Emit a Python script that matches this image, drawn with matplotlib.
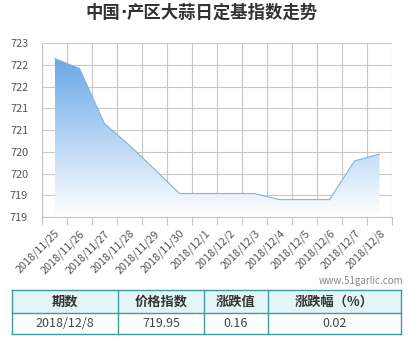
import math
import numpy as np
import matplotlib
matplotlib.use("Agg")
import matplotlib.pyplot as plt
from matplotlib.colors import LinearSegmentedColormap
from matplotlib.patches import Rectangle
from matplotlib.ticker import FixedLocator, FuncFormatter

plt.rcParams['font.family'] = ['Noto Sans CJK SC', 'DejaVu Sans']

# ---- data ----
dates = ["2018/11/25", "2018/11/26", "2018/11/27", "2018/11/28", "2018/11/29",
         "2018/11/30", "2018/12/1", "2018/12/2", "2018/12/3", "2018/12/4",
         "2018/12/5", "2018/12/6", "2018/12/7", "2018/12/8"]
index_values = [722.15, 721.92, 720.65, 720.15, 719.60, 719.04, 719.04,
                719.04, 719.04, 718.90, 718.90, 718.90, 719.79, 719.95]
y_ticks = [718.5, 719.0, 719.5, 720.0, 720.5, 721.0, 721.5, 722.0, 722.5]

title_parts = ["中国", "·", "产区大蒜日定基指数走势"]
table_headers = ["期数", "价格指数", "涨跌值", "涨跌幅（%）"]
table_row = ["2018/12/8", "719.95", "0.16", "0.02"]
watermark = "www.51garlic.com"

# ---- figure ----
W, H = 412, 337
fig = plt.figure(figsize=(W / 100, H / 100), dpi=100)
fig.patch.set_facecolor("white")

def fx(px):
    return px / W

def fy(py):
    return 1 - py / H

ax_l, ax_r, ax_t, ax_b = 42, 392, 43.3, 217
ax = fig.add_axes([fx(ax_l), fy(ax_b), fx(ax_r - ax_l), (ax_b - ax_t) / H])

x = np.arange(len(dates))
y = np.array(index_values)
ymin, ymax = y_ticks[0], y_ticks[-1]
ax.set_xlim(-0.5, len(dates) - 0.5)
ax.set_ylim(ymin, ymax)

# gradient area under the line
cmap = LinearSegmentedColormap.from_list("area", ["#ffffff", "#6aa8e8"])
grad = np.linspace(0, 1, 256).reshape(-1, 1)
img = ax.imshow(grad, cmap=cmap, aspect="auto", origin="lower",
                extent=[x[0], x[-1], ymin, y.max()], zorder=2)
poly = ax.fill_between(x, y, ymin, facecolor="none", edgecolor="none")
clip = poly.get_paths()[0]
img.set_clip_path(clip, transform=ax.transData)
ax.plot(x, y, color="#86b0da", lw=0.8, zorder=3)

# grid lines at the category boundaries
ax.xaxis.set_minor_locator(FixedLocator(np.arange(-0.5, len(dates), 1.0)))
ax.set_xticks(x)
ax.set_xticklabels(dates, rotation=45, ha="right", rotation_mode="anchor",
                   fontsize=7.8, color="#555555")
ax.tick_params(axis="x", which="major", length=0, pad=8)
ax.tick_params(axis="x", which="minor", length=6, color="#c4c4c4", width=0.8)
ax.grid(True, axis="x", which="minor", color="#c8c8c8", lw=0.8, zorder=1)

ax.set_yticks(y_ticks)
ax.yaxis.set_major_formatter(FuncFormatter(lambda v, p: str(int(math.floor(v + 0.5)))))
ax.tick_params(axis="y", length=0, pad=10, labelsize=7.8, labelcolor="#555555")
ax.grid(True, axis="y", which="major", color="#c8c8c8", lw=0.8, zorder=1)

for side in ["top", "right"]:
    ax.spines[side].set_visible(False)
for side in ["left", "bottom"]:
    ax.spines[side].set_color("#c4c4c4")
    ax.spines[side].set_linewidth(0.8)
ax.set_facecolor("white")

# title, with a narrow middle dot
renderer = fig.canvas.get_renderer()
title_fonts = [['Noto Sans CJK SC'], ['DejaVu Sans'], ['Noto Sans CJK SC']]
pieces = []
for part, fam in zip(title_parts, title_fonts):
    t = fig.text(0, fy(13), part, ha="left", va="center", fontsize=12.5,
                 fontweight="bold", color="#333333", family=fam)
    pieces.append(t)
widths = [t.get_window_extent(renderer).width for t in pieces]
start = 202 - sum(widths) / 2
for t, w in zip(pieces, widths):
    t.set_x(fx(start))
    start += w

# watermark
fig.text(fx(403), fy(281), watermark, ha="right", va="center",
         fontsize=7, color="#888888")

# summary table
col_edges = [12, 118, 204, 268, 401]
row_edges = [290, 313, 334]
border = "#3f9b9b"
fig.patches.append(Rectangle((fx(col_edges[0]), fy(row_edges[1])),
                             fx(col_edges[-1] - col_edges[0]),
                             (row_edges[1] - row_edges[0]) / H,
                             transform=fig.transFigure, facecolor="#e4f5f7",
                             edgecolor="none", zorder=1))
for c in col_edges:
    fig.add_artist(plt.Line2D([fx(c), fx(c)], [fy(row_edges[0]), fy(row_edges[-1])],
                              color=border, lw=1.0, transform=fig.transFigure))
for r in row_edges:
    fig.add_artist(plt.Line2D([fx(col_edges[0]), fx(col_edges[-1])], [fy(r), fy(r)],
                              color=border, lw=1.0, transform=fig.transFigure))
for i in range(len(table_headers)):
    cx = (col_edges[i] + col_edges[i + 1]) / 2
    fig.text(fx(cx), fy((row_edges[0] + row_edges[1]) / 2), table_headers[i],
             ha="center", va="center", fontsize=9.5, fontweight="bold",
             color="#333333")
    fig.text(fx(cx), fy((row_edges[1] + row_edges[2]) / 2), table_row[i],
             ha="center", va="center", fontsize=9, color="#444444")

fig.savefig("out.png", dpi=100)
